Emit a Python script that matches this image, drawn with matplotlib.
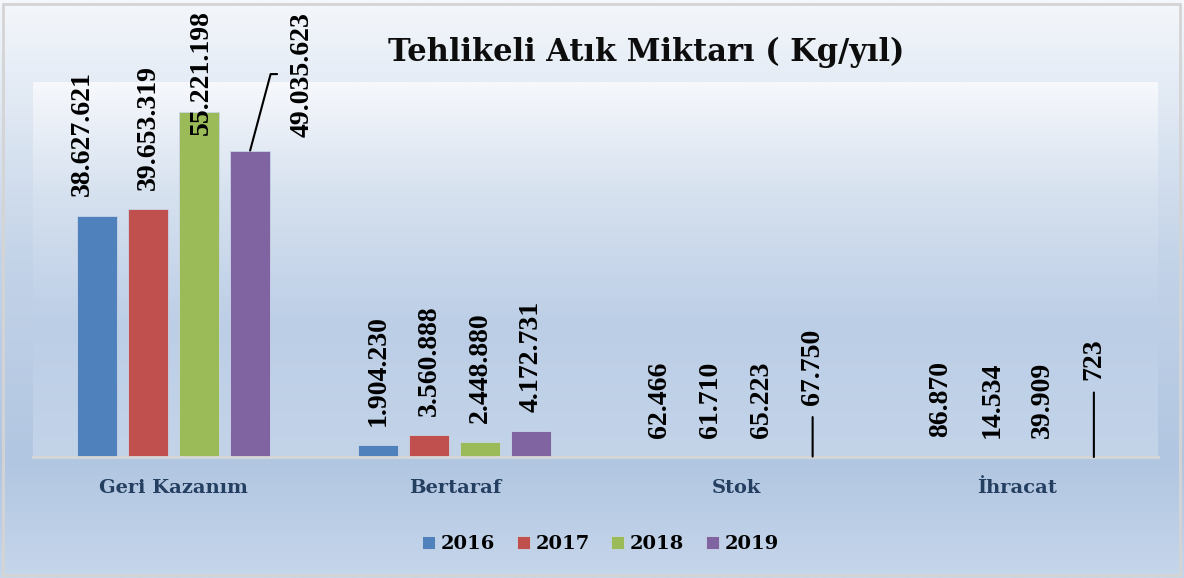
import numpy as np
import matplotlib.pyplot as plt
from matplotlib.colors import LinearSegmentedColormap
from matplotlib.patches import Rectangle

categories = ["Geri Kazanım", "Bertaraf", "Stok", "İhracat"]
years = ["2016", "2017", "2018", "2019"]
values_2016 = [38627621, 1904230, 62466, 86870]
values_2017 = [39653319, 3560888, 61710, 14534]
values_2018 = [55221198, 2448880, 65223, 39909]
values_2019 = [49035623, 4172731, 67750, 723]
series = [values_2016, values_2017, values_2018, values_2019]
colors = ["#4f81bd", "#c0504d", "#9bbb59", "#8064a2"]

# label offsets in pixels (dx, dy); default is straight above the bar
label_offsets = {(0, 0): (-15, 20), (0, 2): (2, -23)}
# labels moved away by the chart, drawn with a leader line
leader_labels = {(0, 3): (52, 14), (2, 3): (0, 52), (3, 3): (0, 77)}

W, H = 1184, 578
fig = plt.figure(figsize=(W / 100, H / 100), dpi=100)

# figure background gradient
bg = fig.add_axes([0, 0, 1, 1], zorder=-10)
bg_cmap = LinearSegmentedColormap.from_list(
    "bg", [(0, "#c6d6eb"), (0.2, "#b1c6e1"), (0.55, "#c3d3e8"), (1, "#f4f7fb")])
bg.imshow(np.linspace(0, 1, 256).reshape(-1, 1), cmap=bg_cmap, aspect="auto",
          extent=[0, 1, 0, 1], origin="lower")
bg.axis("off")
bg.add_patch(Rectangle((3 / W, 3 / H), 1 - 7 / W, 1 - 7 / H, fill=False,
                       edgecolor="#d4d4d4", lw=2, transform=bg.transAxes))

ax = fig.add_axes([33 / W, 1 - 457 / H, 1125 / W, 375 / H])
pa_cmap = LinearSegmentedColormap.from_list(
    "pa", [(0, "#c3d4e9"), (0.35, "#bccee6"), (0.7, "#d6e1ef"), (1, "#f6f8fc")])
ax.imshow(np.linspace(0, 1, 256).reshape(-1, 1), cmap=pa_cmap, aspect="auto",
          extent=[0, 1, 0, 1], origin="lower", transform=ax.transAxes, zorder=0)
ax.patch.set_visible(False)

x = np.arange(len(categories))
step = 51 / 281.25
width = 40 / 281.25
label_font = dict(family="Liberation Serif", fontweight="bold", fontsize=20)

for i, (vals, col, yr) in enumerate(zip(series, colors, years)):
    xs = x + (i - 1.5) * step
    ax.bar(xs, vals, width, color=col, label=yr, zorder=2,
           edgecolor="#c9d5e6", linewidth=0.6)
    for j, (xx, v) in enumerate(zip(xs, vals)):
        txt = f"{v:,}".replace(",", ".")
        if (j, i) in leader_labels:
            dx, dy = leader_labels[(j, i)]
            if dx:
                ax.annotate(txt, (xx, v), xytext=(dx, dy), textcoords="offset pixels",
                            rotation=90, ha="center", va="bottom", **label_font,
                            arrowprops=dict(arrowstyle="-", color="black", lw=1.5,
                                            relpos=(0, 0.5), shrinkA=7, shrinkB=0,
                                            connectionstyle="angle,angleA=0,angleB=75,rad=0"),
                            zorder=3)
            else:
                ax.annotate(txt, (xx, v), xytext=(dx, dy), textcoords="offset pixels",
                            rotation=90, ha="center", va="bottom", **label_font,
                            arrowprops=dict(arrowstyle="-", color="black", lw=1.5,
                                            relpos=(0.5, 0), shrinkA=7, shrinkB=0),
                            zorder=3)
        else:
            dx, dy = label_offsets.get((j, i), (0, 19))
            ax.annotate(txt, (xx, v), xytext=(dx, dy), textcoords="offset pixels",
                        rotation=90, ha="center", va="bottom", **label_font,
                        zorder=3)

ax.set_xlim(-0.5, 3.5)
ax.set_ylim(0, 60e6)
ax.set_yticks([])
ax.set_xticks(x)
ax.set_xticklabels(categories, fontsize=14, fontweight="bold", family="DejaVu Serif",
                   color="#243f60")
ax.tick_params(axis="x", length=0, pad=16)
for s in ["top", "left", "right"]:
    ax.spines[s].set_visible(False)
ax.spines["bottom"].set_color("#d6d6d6")
ax.spines["bottom"].set_linewidth(2)

fig.text(0.546, 0.91, "Tehlikeli Atık Miktarı ( Kg/yıl)", ha="center", va="center",
         fontsize=22, fontweight="bold", family="DejaVu Serif", color="#0d0d0d")

fig.legend(loc="center", bbox_to_anchor=(0.507, 1 - 544 / H), ncol=4, frameon=False,
           prop=dict(family="DejaVu Serif", weight="bold", size=14),
           handlelength=0.67, handleheight=0.67, handletextpad=0.3, columnspacing=1.1)

fig.savefig("out.png", dpi=100)
